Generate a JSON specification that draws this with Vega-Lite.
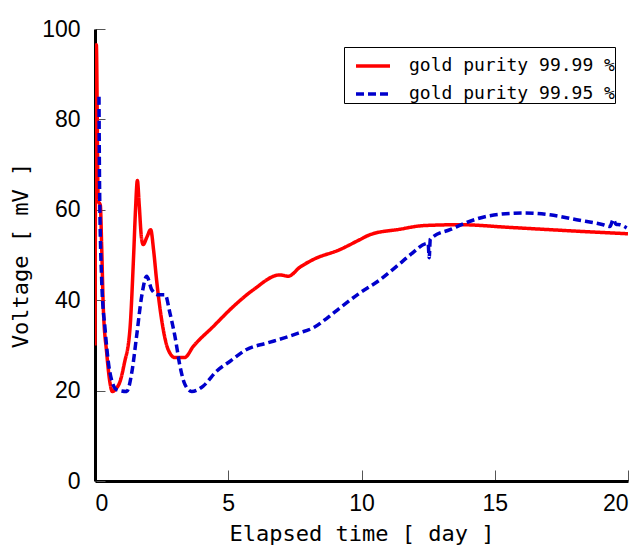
{
  "$schema": "https://vega.github.io/schema/vega-lite/v6.json",
  "width": 533,
  "height": 452,
  "autosize": {"type": "none"},
  "padding": {"left": 95, "top": 29, "right": 11, "bottom": 71},
  "config": {
    "view": {"stroke": null},
    "font": "Liberation Sans"
  },
  "datasets": {
    "curves": [
      {"series": "gold purity 99.99 %", "day": 0, "mV": 30},
      {"series": "gold purity 99.99 %", "day": 0.05, "mV": 96.5},
      {"series": "gold purity 99.99 %", "day": 0.12, "mV": 62},
      {"series": "gold purity 99.99 %", "day": 0.2, "mV": 61},
      {"series": "gold purity 99.99 %", "day": 0.25, "mV": 52},
      {"series": "gold purity 99.99 %", "day": 0.31, "mV": 38.6},
      {"series": "gold purity 99.99 %", "day": 0.44, "mV": 28.3},
      {"series": "gold purity 99.99 %", "day": 0.56, "mV": 21.8},
      {"series": "gold purity 99.99 %", "day": 0.65, "mV": 19.8},
      {"series": "gold purity 99.99 %", "day": 0.8, "mV": 20.5},
      {"series": "gold purity 99.99 %", "day": 0.94, "mV": 22},
      {"series": "gold purity 99.99 %", "day": 1.1, "mV": 26},
      {"series": "gold purity 99.99 %", "day": 1.31, "mV": 33.5},
      {"series": "gold purity 99.99 %", "day": 1.45, "mV": 50},
      {"series": "gold purity 99.99 %", "day": 1.52, "mV": 60},
      {"series": "gold purity 99.99 %", "day": 1.59, "mV": 66.5},
      {"series": "gold purity 99.99 %", "day": 1.66, "mV": 61},
      {"series": "gold purity 99.99 %", "day": 1.74, "mV": 54},
      {"series": "gold purity 99.99 %", "day": 1.81, "mV": 52.3},
      {"series": "gold purity 99.99 %", "day": 1.95, "mV": 54},
      {"series": "gold purity 99.99 %", "day": 2.09, "mV": 55.6},
      {"series": "gold purity 99.99 %", "day": 2.2, "mV": 51},
      {"series": "gold purity 99.99 %", "day": 2.31, "mV": 44.5},
      {"series": "gold purity 99.99 %", "day": 2.5, "mV": 35.7},
      {"series": "gold purity 99.99 %", "day": 2.75, "mV": 29},
      {"series": "gold purity 99.99 %", "day": 3.0, "mV": 27.3},
      {"series": "gold purity 99.99 %", "day": 3.36, "mV": 27.3},
      {"series": "gold purity 99.99 %", "day": 3.69, "mV": 29.8},
      {"series": "gold purity 99.99 %", "day": 4.44, "mV": 34.2},
      {"series": "gold purity 99.99 %", "day": 5.19, "mV": 38.6},
      {"series": "gold purity 99.99 %", "day": 5.94, "mV": 42.3},
      {"series": "gold purity 99.99 %", "day": 6.94, "mV": 45.6},
      {"series": "gold purity 99.99 %", "day": 7.25, "mV": 45.3},
      {"series": "gold purity 99.99 %", "day": 7.69, "mV": 47.3},
      {"series": "gold purity 99.99 %", "day": 8.19, "mV": 49},
      {"series": "gold purity 99.99 %", "day": 9.19, "mV": 51.2},
      {"series": "gold purity 99.99 %", "day": 9.94, "mV": 53.4},
      {"series": "gold purity 99.99 %", "day": 10.32, "mV": 54.5},
      {"series": "gold purity 99.99 %", "day": 11.44, "mV": 55.7},
      {"series": "gold purity 99.99 %", "day": 12.32, "mV": 56.5},
      {"series": "gold purity 99.99 %", "day": 13.7, "mV": 56.7},
      {"series": "gold purity 99.99 %", "day": 15.57, "mV": 56.1},
      {"series": "gold purity 99.99 %", "day": 17.07, "mV": 55.6},
      {"series": "gold purity 99.99 %", "day": 18.3, "mV": 55.2},
      {"series": "gold purity 99.99 %", "day": 20, "mV": 54.7},
      {"series": "gold purity 99.95 %", "day": 0.15, "mV": 85},
      {"series": "gold purity 99.95 %", "day": 0.17, "mV": 66},
      {"series": "gold purity 99.95 %", "day": 0.25, "mV": 44.5},
      {"series": "gold purity 99.95 %", "day": 0.38, "mV": 33.5},
      {"series": "gold purity 99.95 %", "day": 0.56, "mV": 24},
      {"series": "gold purity 99.95 %", "day": 0.81, "mV": 20.2},
      {"series": "gold purity 99.95 %", "day": 1.19, "mV": 19.8},
      {"series": "gold purity 99.95 %", "day": 1.38, "mV": 24},
      {"series": "gold purity 99.95 %", "day": 1.56, "mV": 32},
      {"series": "gold purity 99.95 %", "day": 1.75, "mV": 40.8},
      {"series": "gold purity 99.95 %", "day": 1.94, "mV": 45.3},
      {"series": "gold purity 99.95 %", "day": 2.13, "mV": 42.3},
      {"series": "gold purity 99.95 %", "day": 2.38, "mV": 41.2},
      {"series": "gold purity 99.95 %", "day": 2.63, "mV": 41.2},
      {"series": "gold purity 99.95 %", "day": 2.81, "mV": 37.2},
      {"series": "gold purity 99.95 %", "day": 3.0, "mV": 32},
      {"series": "gold purity 99.95 %", "day": 3.19, "mV": 25.4},
      {"series": "gold purity 99.95 %", "day": 3.38, "mV": 21.3},
      {"series": "gold purity 99.95 %", "day": 3.63, "mV": 19.8},
      {"series": "gold purity 99.95 %", "day": 4.06, "mV": 21},
      {"series": "gold purity 99.95 %", "day": 4.56, "mV": 24.3},
      {"series": "gold purity 99.95 %", "day": 5.07, "mV": 26.5},
      {"series": "gold purity 99.95 %", "day": 5.69, "mV": 29.1},
      {"series": "gold purity 99.95 %", "day": 6.44, "mV": 30.5},
      {"series": "gold purity 99.95 %", "day": 7.07, "mV": 31.6},
      {"series": "gold purity 99.95 %", "day": 7.63, "mV": 32.7},
      {"series": "gold purity 99.95 %", "day": 8.19, "mV": 33.9},
      {"series": "gold purity 99.95 %", "day": 8.7, "mV": 36},
      {"series": "gold purity 99.95 %", "day": 9.19, "mV": 38.3},
      {"series": "gold purity 99.95 %", "day": 9.94, "mV": 41.6},
      {"series": "gold purity 99.95 %", "day": 10.69, "mV": 44.5},
      {"series": "gold purity 99.95 %", "day": 11.38, "mV": 47.8},
      {"series": "gold purity 99.95 %", "day": 11.82, "mV": 50},
      {"series": "gold purity 99.95 %", "day": 12.5, "mV": 52.6},
      {"series": "gold purity 99.95 %", "day": 12.54, "mV": 49.4},
      {"series": "gold purity 99.95 %", "day": 12.58, "mV": 53.5},
      {"series": "gold purity 99.95 %", "day": 12.7, "mV": 54.1},
      {"series": "gold purity 99.95 %", "day": 13.32, "mV": 55.6},
      {"series": "gold purity 99.95 %", "day": 13.95, "mV": 57.2},
      {"series": "gold purity 99.95 %", "day": 14.82, "mV": 58.7},
      {"series": "gold purity 99.95 %", "day": 16.07, "mV": 59.3},
      {"series": "gold purity 99.95 %", "day": 17.07, "mV": 58.9},
      {"series": "gold purity 99.95 %", "day": 18.07, "mV": 57.8},
      {"series": "gold purity 99.95 %", "day": 19.07, "mV": 56.7},
      {"series": "gold purity 99.95 %", "day": 19.32, "mV": 56.3},
      {"series": "gold purity 99.95 %", "day": 19.45, "mV": 57.9},
      {"series": "gold purity 99.95 %", "day": 19.55, "mV": 56.8},
      {"series": "gold purity 99.95 %", "day": 19.7, "mV": 56.7},
      {"series": "gold purity 99.95 %", "day": 19.95, "mV": 56}
    ]
  },
  "data": {"name": "curves"},
  "mark": {"type": "line", "strokeWidth": 3.5, "clip": true, "interpolate": "monotone"},
  "encoding": {
    "x": {
      "field": "day",
      "type": "quantitative",
      "scale": {"domain": [0, 20], "nice": false, "zero": false},
      "axis": {
        "values": [0, 5, 10, 15, 20],
        "grid": false,
        "domainColor": "#000000",
        "domainWidth": 3,
        "tickColor": "#555555",
        "tickWidth": 1,
        "tickSize": -11,
        "labelFontSize": 23,
        "labelColor": "#000000",
        "labelPadding": 22,
        "title": "Elapsed time [ day ]",
        "titleFont": "DejaVu Sans Mono",
        "titleFontSize": 22,
        "titleFontWeight": "normal",
        "titleColor": "#000000",
        "titlePadding": 8
      }
    },
    "y": {
      "field": "mV",
      "type": "quantitative",
      "scale": {"domain": [0, 100], "nice": false},
      "axis": {
        "values": [0, 20, 40, 60, 80, 100],
        "grid": false,
        "domainColor": "#000000",
        "domainWidth": 3,
        "tickColor": "#555555",
        "tickWidth": 1,
        "tickSize": -10,
        "labelFontSize": 23,
        "labelColor": "#000000",
        "labelPadding": 25,
        "title": "Voltage [ mV ]",
        "titleFont": "DejaVu Sans Mono",
        "titleFontSize": 22,
        "titleFontWeight": "normal",
        "titleColor": "#000000",
        "titlePadding": 9
      }
    },
    "color": {
      "field": "series",
      "type": "nominal",
      "scale": {
        "domain": ["gold purity 99.99 %", "gold purity 99.95 %"],
        "range": ["#ff0000", "#0000cc"]
      },
      "legend": {
        "title": null,
        "orient": "none",
        "legendX": 249,
        "legendY": 18,
        "strokeColor": "#000000",
        "fillColor": "#ffffff",
        "padding": 0,
        "symbolOffset": 10,
        "symbolType": "stroke",
        "symbolSize": 1156,
        "symbolStrokeWidth": 3.5,
        "labelFont": "DejaVu Sans Mono",
        "labelFontSize": 18,
        "labelColor": "#000000",
        "labelOffset": 17,
        "labelLimit": 400,
        "rowPadding": 0
      }
    },
    "strokeDash": {
      "field": "series",
      "type": "nominal",
      "scale": {
        "domain": ["gold purity 99.99 %", "gold purity 99.95 %"],
        "range": [[1, 0], [8, 4]]
      },
      "legend": {
        "title": null,
        "orient": "none",
        "legendX": 249,
        "legendY": 18,
        "strokeColor": "#000000",
        "fillColor": "#ffffff",
        "padding": 0,
        "symbolOffset": 10,
        "symbolType": "stroke",
        "symbolSize": 1156,
        "symbolStrokeWidth": 3.5,
        "labelFont": "DejaVu Sans Mono",
        "labelFontSize": 18,
        "labelColor": "#000000",
        "labelOffset": 17,
        "labelLimit": 400,
        "rowPadding": 0
      }
    }
  }
}
